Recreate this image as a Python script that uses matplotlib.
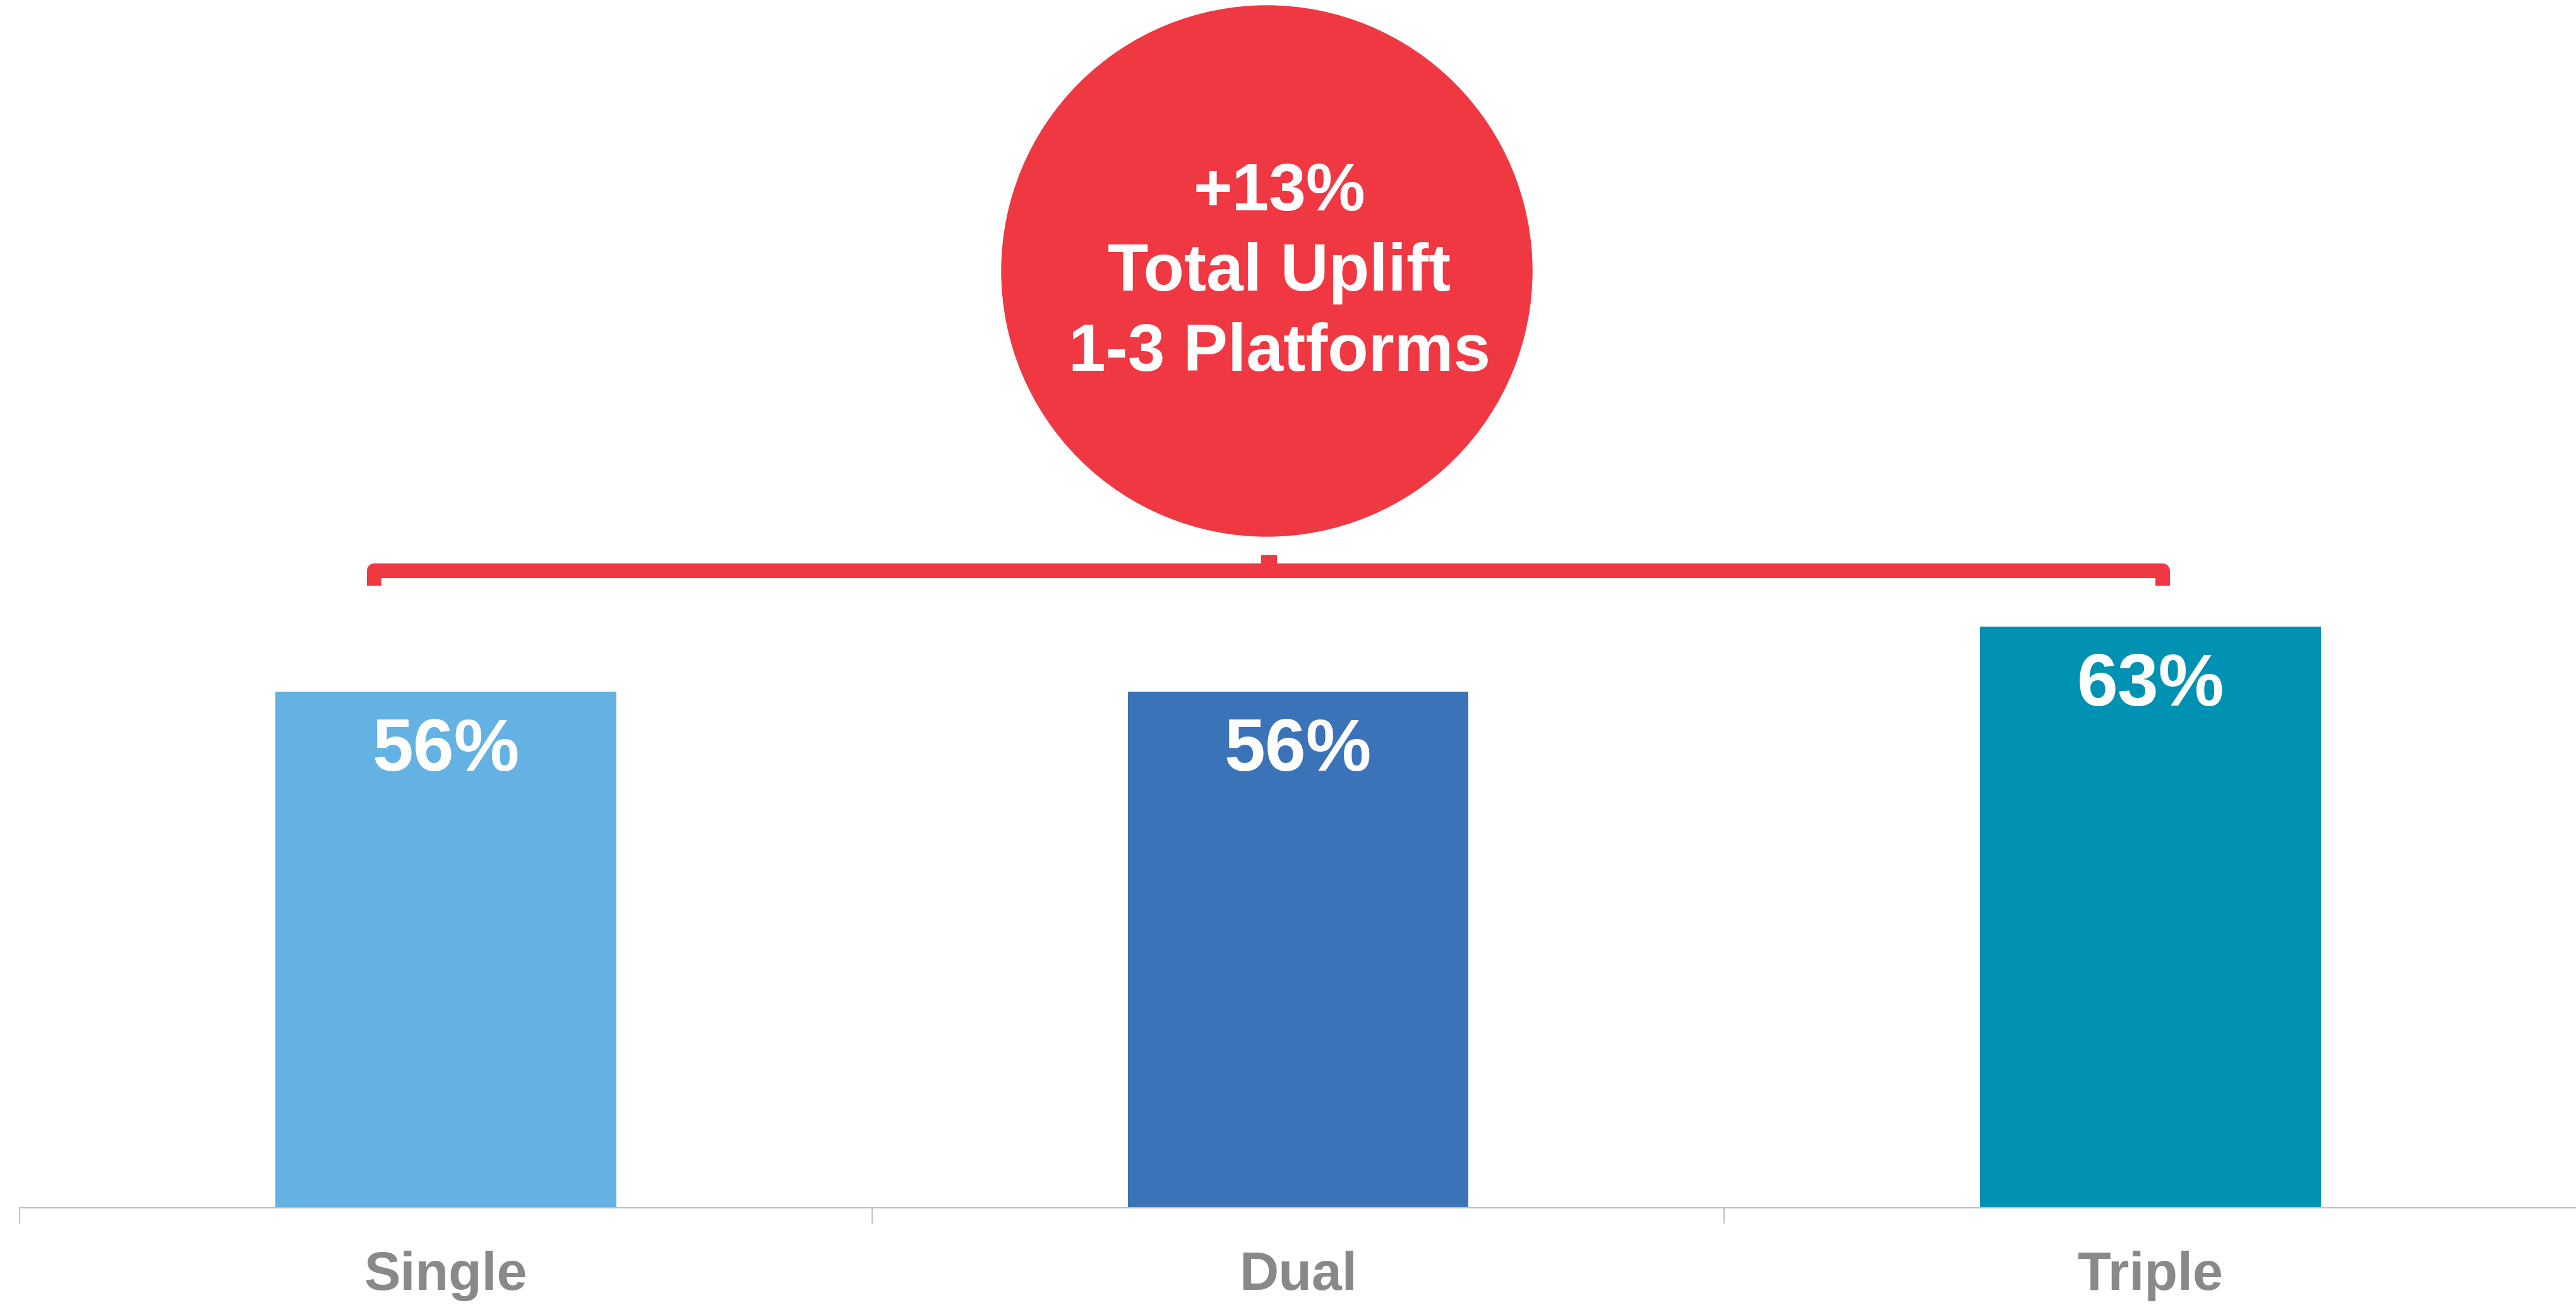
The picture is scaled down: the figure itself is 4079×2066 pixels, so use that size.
import matplotlib
matplotlib.use("Agg")
import matplotlib.pyplot as plt
from matplotlib.patches import Circle, Rectangle
from matplotlib.path import Path
from matplotlib.patches import PathPatch

plt.rcParams['font.family'] = ['Liberation Sans', 'DejaVu Sans']

# Data
categories = ["Single", "Dual", "Triple"]
values = [56, 56, 63]
value_labels = ["56%", "56%", "63%"]
bar_colors = ["#63B2E3", "#3B73B9", "#0091B3"]
callout_lines = ["+13%", "Total Uplift", "1-3 Platforms"]

RED = "#EF3842"
GREY_TEXT = "#898989"
AXIS_GREY = "#BFBFBF"

W, H = 4080, 2066
DPI = 100
fig = plt.figure(figsize=(W / DPI, H / DPI), dpi=DPI)

# Main bar axes: baseline sits at y=1912 px from the top
ax = fig.add_axes([31 / W, (H - 1912) / H, 1 - 31 / W, 1912 / H])
x = list(range(len(categories)))
bars = ax.bar(x, values, width=0.4, color=bar_colors, zorder=2)
ax.set_xlim(-0.5, 2.5)
ax.set_ylim(0, 131)

for xi, v, lab in zip(x, values, value_labels):
    ax.annotate(lab, (xi, v), xytext=(0, -90), textcoords="offset points",
                ha="center", va="baseline", color="white",
                fontsize=84, fontweight="bold", zorder=3)

for s in ("left", "right", "top"):
    ax.spines[s].set_visible(False)
ax.spines["bottom"].set_color(AXIS_GREY)
ax.spines["bottom"].set_linewidth(1.6)
ax.set_yticks([])
ax.set_xticks(x)
ax.set_xticklabels(categories, fontsize=62, fontweight="bold", color=GREY_TEXT)
ax.tick_params(axis="x", which="major", length=0, pad=49)
ax.set_xticks([-0.5, 0.5, 1.5, 2.5], minor=True)
ax.tick_params(axis="x", which="minor", length=18, width=1.4, color=AXIS_GREY)
ax.patch.set_visible(False)

# Overlay in pixel coordinates for the callout bubble and bracket
ov = fig.add_axes([0, 0, 1, 1])
ov.set_xlim(0, W)
ov.set_ylim(0, H)
ov.axis("off")
ov.patch.set_visible(False)

cx, cy, r = 2006, H - 429, 420
ov.add_patch(Circle((cx, cy), r, color=RED, zorder=1))
for line, ty in zip(callout_lines, [305, 433, 559]):
    ov.text(cx + 20, H - ty, line, ha="center", va="center", color="white",
            fontsize=76, fontweight="bold", zorder=2)

# Bracket spanning the three bars
yb = H - 902.5
ylo = H - 927
verts = [(592, ylo), (592, yb), (3424.5, yb), (3424.5, ylo)]
codes = [Path.MOVETO, Path.LINETO, Path.LINETO, Path.LINETO]
ov.add_patch(PathPatch(Path(verts, codes), facecolor="none", edgecolor=RED,
                       linewidth=23 * 72 / DPI, joinstyle="round",
                       capstyle="butt", zorder=1))
ov.add_patch(Rectangle((1997, H - 891), 24, 12, color=RED, zorder=1))

fig.savefig("out.png", dpi=DPI)
